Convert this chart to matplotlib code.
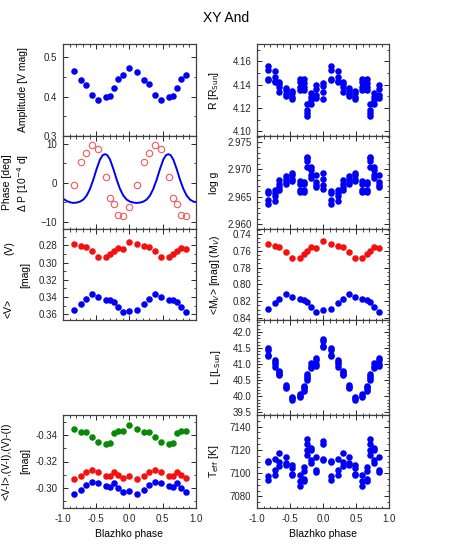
import numpy as np
import matplotlib
matplotlib.use("Agg")
import matplotlib.pyplot as plt
from matplotlib.ticker import MultipleLocator

plt.rcParams['font.family'] = ['Liberation Sans', 'DejaVu Sans']

# Blazhko phase of each point (same for all panels)
phase = [-0.84, -0.73, -0.66, -0.56, -0.47, -0.35, -0.29, -0.24, -0.18, -0.10, 0.0,
         0.12, 0.22, 0.30, 0.39, 0.48, 0.59, 0.66, 0.71, 0.78, 0.85]

# left column
amplitude = [0.464, 0.443, 0.430, 0.405, 0.390, 0.399, 0.402, 0.421, 0.445, 0.454, 0.471,
             0.463, 0.443, 0.431, 0.405, 0.390, 0.399, 0.402, 0.421, 0.445, 0.454]

phase_shift = [-0.6, 5.4, 7.7, 9.8, 8.7, 1.5, -3.85, -5.3, -8.3, -8.6, -6.15,
               -0.6, 5.4, 7.7, 9.8, 8.7, 1.5, -3.85, -5.3, -8.3, -8.6]

# dP model curve
dp_phase = [-1.0, -0.945, -0.895, -0.845, -0.795, -0.744, -0.694, -0.644, -0.594, -0.544,
            -0.494, -0.444, -0.403, -0.368, -0.333, -0.293, -0.243, -0.193, -0.143, -0.093,
            -0.043, 0.008, 0.058, 0.108, 0.158, 0.208, 0.258, 0.308, 0.358, 0.409,
            0.459, 0.509, 0.549, 0.584, 0.619, 0.659, 0.709, 0.759, 0.810, 0.860,
            0.910, 0.960, 1.0]
dp_value = [-4.02, -4.62, -4.96, -5.13, -5.04, -4.79, -4.27, -3.25, -1.54, 0.85,
            3.59, 5.98, 7.09, 7.35, 7.09, 5.98, 3.59, 0.85, -1.54, -3.25,
            -4.27, -4.79, -5.04, -5.13, -5.04, -4.79, -4.27, -3.25, -1.54, 0.85,
            3.59, 5.98, 7.09, 7.35, 7.09, 5.98, 3.59, 0.85, -1.54, -3.25,
            -4.27, -4.79, -4.9]

V_intensity = [0.2785, 0.2804, 0.2816, 0.2862, 0.2940, 0.2940, 0.2901, 0.2870, 0.2835, 0.2843, 0.2757,
               0.2785, 0.2804, 0.2816, 0.2862, 0.2940, 0.2940, 0.2901, 0.2870, 0.2835, 0.2843]
V_mag = [0.3548, 0.3478, 0.3420, 0.3366, 0.3404, 0.3432, 0.3436, 0.3459, 0.3517, 0.3575, 0.3556,
         0.3548, 0.3478, 0.3420, 0.3366, 0.3404, 0.3432, 0.3436, 0.3459, 0.3517, 0.3575]

VI_green = [-0.3445, -0.3425, -0.3423, -0.3383, -0.3348, -0.3335, -0.3343, -0.3413, -0.3433, -0.3433, -0.3478,
            -0.3445, -0.3425, -0.3423, -0.3383, -0.3348, -0.3335, -0.3343, -0.3413, -0.3433, -0.3433]
VI_red = [-0.3070, -0.3090, -0.3123, -0.3133, -0.3123, -0.3093, -0.3090, -0.3123, -0.3100, -0.3075, -0.3090,
          -0.3070, -0.3090, -0.3123, -0.3133, -0.3123, -0.3093, -0.3090, -0.3123, -0.3100, -0.3075]
VI_blue = [-0.2955, -0.2983, -0.3020, -0.3048, -0.3035, -0.3013, -0.3010, -0.3038, -0.3003, -0.2970, -0.2978,
           -0.2955, -0.2983, -0.3020, -0.3048, -0.3035, -0.3013, -0.3010, -0.3038, -0.3003, -0.2970]

# right column (several estimates per phase)
radius = [[4.1557, 4.1531, 4.1451, 4.1437], [4.1517, 4.1469, 4.1434, 4.1423],
          [4.1426, 4.1406, 4.1383, 4.1340], [4.1374, 4.1354, 4.1320, 4.1306],
          [4.1346, 4.1326, 4.1291, 4.1274], [4.1446, 4.1426, 4.1377, 4.1354],
          [4.1446, 4.1417, 4.1383, 4.1354], [4.1234, 4.1183, 4.1154, 4.1134],
          [4.1326, 4.1297, 4.1269, 4.1234], [4.1397, 4.1360, 4.1309, 4.1283],
          [4.1417, 4.1389, 4.1340, 4.1280],
          [4.1557, 4.1531, 4.1451, 4.1437], [4.1517, 4.1469, 4.1434, 4.1423],
          [4.1426, 4.1406, 4.1383, 4.1340], [4.1374, 4.1354, 4.1320, 4.1306],
          [4.1346, 4.1326, 4.1291, 4.1274], [4.1446, 4.1426, 4.1377, 4.1354],
          [4.1446, 4.1417, 4.1383, 4.1354], [4.1234, 4.1183, 4.1154, 4.1134],
          [4.1326, 4.1297, 4.1269, 4.1234], [4.1397, 4.1360, 4.1309, 4.1283]]

logg = [[2.9660, 2.9656, 2.9644, 2.9637], [2.9663, 2.9656, 2.9652, 2.9643],
        [2.9680, 2.9674, 2.9668, 2.9662], [2.9688, 2.9683, 2.9677, 2.9673],
        [2.9694, 2.9690, 2.9683, 2.9679], [2.9679, 2.9674, 2.9663, 2.9658],
        [2.9677, 2.9673, 2.9663, 2.9658], [2.9723, 2.9720, 2.9715, 2.9705],
        [2.9705, 2.9699, 2.9690, 2.9684], [2.9689, 2.9677, 2.9671, 2.9668],
        [2.9694, 2.9682, 2.9671, 2.9665],
        [2.9660, 2.9656, 2.9644, 2.9637], [2.9663, 2.9656, 2.9652, 2.9643],
        [2.9680, 2.9674, 2.9668, 2.9662], [2.9688, 2.9683, 2.9677, 2.9673],
        [2.9694, 2.9690, 2.9683, 2.9679], [2.9679, 2.9674, 2.9663, 2.9658],
        [2.9677, 2.9673, 2.9663, 2.9658], [2.9723, 2.9720, 2.9715, 2.9705],
        [2.9705, 2.9699, 2.9690, 2.9684], [2.9689, 2.9677, 2.9671, 2.9668]]

Mv_intensity = [0.752, 0.754, 0.756, 0.761, 0.768, 0.768, 0.764, 0.760, 0.756, 0.757, 0.748,
                0.752, 0.754, 0.756, 0.761, 0.768, 0.768, 0.764, 0.760, 0.756, 0.757]
Mv_mag = [0.8296, 0.8225, 0.8173, 0.8113, 0.8153, 0.8177, 0.8185, 0.8209, 0.8265, 0.8324, 0.8304,
          0.8296, 0.8225, 0.8173, 0.8113, 0.8153, 0.8177, 0.8185, 0.8209, 0.8265, 0.8324]

lum = [[41.49, 41.44, 41.28, 41.25], [41.13, 41.08, 40.99, 40.92],
       [40.80, 40.75, 40.69, 40.65], [40.35, 40.30, 40.25],
       [39.99, 39.94, 39.89], [40.07, 40.02, 39.97],
       [40.33, 40.28, 40.23, 40.18], [40.69, 40.63, 40.57, 40.51],
       [41.03, 40.95, 40.87], [41.18, 41.13, 40.99, 40.95],
       [41.77, 41.72, 41.56, 41.52],
       [41.49, 41.44, 41.28, 41.25], [41.13, 41.08, 40.99, 40.92],
       [40.80, 40.75, 40.69, 40.65], [40.35, 40.30, 40.25],
       [39.99, 39.94, 39.89], [40.07, 40.02, 39.97],
       [40.33, 40.28, 40.23, 40.18], [40.69, 40.63, 40.57, 40.51],
       [41.03, 40.95, 40.87], [41.18, 41.13, 40.99, 40.95]]

teff = [[7110.6, 7109.4, 7097.1, 7094.3], [7112, 7103, 7098],
        [7117, 7110, 7106], [7114, 7109, 7107],
        [7107, 7104, 7099, 7098], [7098.6, 7093.4, 7088.6],
        [7105, 7102, 7095, 7093], [7129, 7125, 7120, 7116],
        [7122, 7120, 7111, 7109], [7114, 7103, 7101],
        [7128, 7125, 7112, 7111],
        [7110.6, 7109.4, 7097.1, 7094.3], [7112, 7103, 7098],
        [7117, 7110, 7106], [7114, 7109, 7107],
        [7107, 7104, 7099, 7098], [7098.6, 7093.4, 7088.6],
        [7105, 7102, 7095, 7093], [7129, 7125, 7120, 7116],
        [7122, 7120, 7111, 7109], [7114, 7103, 7101]]

BLUE = '#0000f5'
RED = '#f51010'
GREEN = '#078a07'
MS = 4.7

W, H = 452, 553
fig = plt.figure(figsize=(W / 100, H / 100), dpi=100)

rows = [(44, 136), (136, 229), (229, 320), (320, 415), (415, 508)]


def make_ax(x0, x1, row):
    y0, y1 = rows[row]
    ax = fig.add_axes([x0 / W, 1 - y1 / H, (x1 - x0) / W, (y1 - y0) / H])
    ax.set_xlim(-1, 1)
    ax.xaxis.set_major_locator(MultipleLocator(0.5))
    ax.xaxis.set_minor_locator(MultipleLocator(0.1))
    ax.tick_params(which='both', direction='in', top=True, right=True,
                   labelsize=7, colors='0.15', pad=4)
    ax.tick_params(which='major', length=3.5, width=0.7)
    ax.tick_params(which='minor', length=1.8, width=0.6)
    for s in ax.spines.values():
        s.set_color('0.25')
        s.set_linewidth(0.9)
    if row != 4:
        ax.tick_params(labelbottom=False)
    else:
        ax.set_xlabel('Blazhko phase', fontsize=7.5, labelpad=4)
        ax.set_xticks([-1, -0.5, 0, 0.5, 1])
        ax.set_xticklabels(['-1.0', '-0.5', '0.0', '0.5', '1.0'])
    return ax


def dots(ax, x, y, color):
    ax.plot(x, y, 'o', color=color, ms=MS, mew=0, ls='none')


def clusters(ax, x, groups, color):
    for xi, g in zip(x, groups):
        dots(ax, [xi] * len(g), g, color)


def ylab(x, row, text):
    y0, y1 = rows[row]
    fig.text(x / W, 1 - (y0 + y1) / 2 / H, text, rotation=90, ha='center',
             va='center', fontsize=7.5)


LX0, LX1 = 63, 196
RX0, RX1 = 257, 389

# amplitude
ax = make_ax(LX0, LX1, 0)
dots(ax, phase, amplitude, BLUE)
ax.set_ylim(0.3, 0.533)
ax.yaxis.set_major_locator(MultipleLocator(0.1))
ax.yaxis.set_minor_locator(MultipleLocator(0.05))
ax.set_yticks([0.3, 0.4, 0.5])
ax.set_yticklabels(['0.3', '0.4', '0.5'])
ylab(23, 0, 'Amplitude [V mag]')

# phase / period change
ax = make_ax(LX0, LX1, 1)
ax.plot(dp_phase, dp_value, color=BLUE, lw=1.4)
ax.plot(phase, phase_shift, 'o', mfc='none', mec='#f25a5a', mew=0.8, ms=4.6, ls='none')
ax.set_ylim(-11.8, 12.0)
ax.yaxis.set_major_locator(MultipleLocator(10))
ax.yaxis.set_minor_locator(MultipleLocator(5))
fig.text(7 / W, 1 - 182.5 / H, 'Phase [deg]', rotation=90, ha='center', va='center', fontsize=7.5)
fig.text(23 / W, 1 - 182.5 / H, 'Δ P [10$^{-4}$ d]', rotation=90, ha='center', va='center', fontsize=7.5)

# mean V
ax = make_ax(LX0, LX1, 2)
dots(ax, phase, V_intensity, RED)
dots(ax, phase, V_mag, BLUE)
ax.set_ylim(0.3666, 0.261)
ax.yaxis.set_major_locator(MultipleLocator(0.02))
ax.yaxis.set_minor_locator(MultipleLocator(0.01))
ax.yaxis.set_major_formatter(plt.FormatStrFormatter('%.2f'))
fig.text(9 / W, 1 - 308 / H, '<V>', rotation=90, ha='center', va='center', fontsize=7.5)
fig.text(9 / W, 1 - 248 / H, '(V)', rotation=90, ha='center', va='center', fontsize=7.5)
fig.text(25 / W, 1 - 274.5 / H, '[mag]', rotation=90, ha='center', va='center', fontsize=7.5)

# colours
ax = make_ax(LX0, LX1, 4)
dots(ax, phase, VI_green, GREEN)
dots(ax, phase, VI_red, RED)
dots(ax, phase, VI_blue, BLUE)
ax.set_ylim(-0.285, -0.355)
ax.yaxis.set_major_locator(MultipleLocator(0.02))
ax.yaxis.set_minor_locator(MultipleLocator(0.01))
ax.yaxis.set_major_formatter(plt.FormatStrFormatter('%.2f'))
fig.text(7 / W, 1 - 461 / H, '<V-I>,(V-I),(V)-(I)', rotation=90, ha='center', va='center', fontsize=7.5)
fig.text(25 / W, 1 - 461 / H, '[mag]', rotation=90, ha='center', va='center', fontsize=7.5)

# radius
ax = make_ax(RX0, RX1, 0)
clusters(ax, phase, radius, BLUE)
ax.set_ylim(4.096, 4.175)
ax.yaxis.set_major_locator(MultipleLocator(0.02))
ax.yaxis.set_minor_locator(MultipleLocator(0.01))
ax.yaxis.set_major_formatter(plt.FormatStrFormatter('%.2f'))
ylab(214, 0, 'R [R$_{\\rm Sun}$]')

# log g
ax = make_ax(RX0, RX1, 1)
clusters(ax, phase, logg, BLUE)
ax.set_ylim(2.9591, 2.9761)
ax.yaxis.set_major_locator(MultipleLocator(0.005))
ax.yaxis.set_minor_locator(MultipleLocator(0.001))
ax.yaxis.set_major_formatter(plt.FormatStrFormatter('%.3f'))
ylab(214, 1, 'log g')

# absolute magnitude
ax = make_ax(RX0, RX1, 2)
dots(ax, phase, Mv_intensity, RED)
dots(ax, phase, Mv_mag, BLUE)
ax.set_ylim(0.8424, 0.734)
ax.yaxis.set_major_locator(MultipleLocator(0.02))
ax.yaxis.set_minor_locator(MultipleLocator(0.005))
ax.yaxis.set_major_formatter(plt.FormatStrFormatter('%.2f'))
ylab(215, 2, '<M$_V$> [mag] (M$_V$)')

# luminosity
ax = make_ax(RX0, RX1, 3)
clusters(ax, phase, lum, BLUE)
ax.set_ylim(39.42, 42.37)
ax.yaxis.set_major_locator(MultipleLocator(0.5))
ax.yaxis.set_minor_locator(MultipleLocator(0.1))
ax.yaxis.set_major_formatter(plt.FormatStrFormatter('%.1f'))
ylab(216, 3, 'L [L$_{\\rm Sun}$]')

# effective temperature
ax = make_ax(RX0, RX1, 4)
clusters(ax, phase, teff, BLUE)
ax.set_ylim(7070, 7150)
ax.yaxis.set_major_locator(MultipleLocator(20))
ax.yaxis.set_minor_locator(MultipleLocator(5))
ylab(214, 4, 'T$_{\\rm eff}$ [K]')

fig.text(0.5, 1 - 18 / H, 'XY And', ha='center', va='center', fontsize=10)

fig.savefig('out.png', dpi=100)
